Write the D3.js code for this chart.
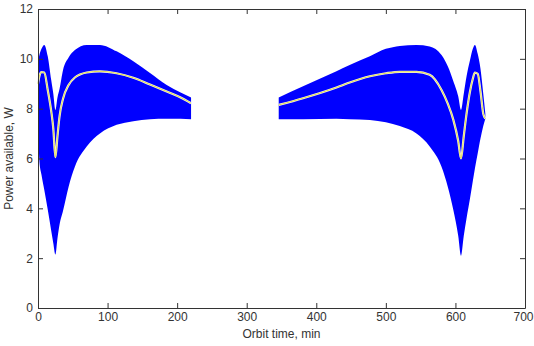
<!DOCTYPE html>
<html>
<head>
<meta charset="utf-8">
<script src="https://cdn.jsdelivr.net/npm/d3@7"></script>
<style>
  body { margin: 0; background: #fff; }
  svg { display: block; font-family: "Liberation Sans", Arial, sans-serif; }
</style>
</head>
<body>
<svg id="chart" width="534" height="346"></svg>
<script>
// orbit pass 1 (min) and envelope / mean power (W)
const time1 = [0, 2, 5, 9, 14, 19, 22, 25, 28, 31, 36, 44, 53, 70, 89, 113, 137, 161, 185, 205, 220];
const upper1 = [9.9, 10.15, 10.4, 10.56, 10.1, 9.15, 8.6, 7.95, 8.45, 8.8, 9.55, 10.05, 10.35, 10.56, 10.56, 10.3, 9.9, 9.43, 8.95, 8.65, 8.45];
const lower1 = [7.6, 5.9, 5.35, 4.75, 3.95, 3.1, 2.6, 2.15, 2.8, 3.35, 3.9, 4.87, 5.67, 6.48, 7.0, 7.35, 7.5, 7.58, 7.6, 7.6, 7.58];
const mean1 = [9.0, 9.3, 9.47, 9.45, 8.75, 7.9, 7.2, 6.05, 6.9, 7.7, 8.4, 8.95, 9.25, 9.45, 9.5, 9.42, 9.24, 8.97, 8.69, 8.45, 8.22];

// orbit pass 2
const time2 = [346, 381, 429, 448, 477, 500, 520, 544, 563, 580, 589, 597, 604, 608, 612, 616, 621, 625, 628, 632, 636, 640, 643];
const upper2 = [8.45, 8.9, 9.5, 9.75, 10.1, 10.4, 10.52, 10.56, 10.5, 10.15, 9.7, 9.1, 8.5, 7.95, 8.6, 9.3, 9.95, 10.4, 10.56, 10.2, 9.6, 8.6, 7.8];
const lower2 = [7.58, 7.58, 7.6, 7.58, 7.55, 7.45, 7.3, 7.0, 6.48, 5.67, 4.87, 3.93, 2.9, 2.1, 2.9, 3.6, 4.4, 5.1, 5.6, 6.2, 6.8, 7.3, 7.6];
const mean2 = [8.15, 8.42, 8.85, 9.05, 9.3, 9.42, 9.48, 9.48, 9.36, 8.75, 8.2, 7.55, 6.7, 6.0, 6.9, 7.8, 8.7, 9.2, 9.45, 9.4, 8.7, 7.8, 7.6];

const xTicks = [0, 100, 200, 300, 400, 500, 600, 700];
const yTicks = [0, 2, 4, 6, 8, 10, 12];

const margin = { top: 9, right: 9, bottom: 38, left: 38 };
const width = 534, height = 346;

const xScale = d3.scaleLinear().domain([0, 700]).range([margin.left, width - margin.right]);
const yScale = d3.scaleLinear().domain([0, 12]).range([height - margin.bottom, margin.top]);

const svg = d3.select("#chart");

const segments = [
  { t: time1, up: upper1, lo: lower1, m: mean1 },
  { t: time2, up: upper2, lo: lower2, m: mean2 }
];

const area = d3.area()
  .x(d => xScale(d.t))
  .y0(d => yScale(d.lo))
  .y1(d => yScale(d.up))
  .curve(d3.curveMonotoneX);

const line = d3.line()
  .x(d => xScale(d.t))
  .y(d => yScale(d.m))
  .curve(d3.curveMonotoneX);

segments.forEach(s => {
  const rows = s.t.map((t, i) => ({ t: t, up: s.up[i], lo: s.lo[i], m: s.m[i] }));
  svg.append("path")
    .datum(rows)
    .attr("d", area)
    .attr("fill", "#0000ff");
  // light halo under the mean line
  svg.append("path")
    .datum(rows)
    .attr("d", line)
    .attr("fill", "none")
    .attr("stroke", "#f2f2e4")
    .attr("stroke-width", 2.2);
  svg.append("path")
    .datum(rows)
    .attr("d", line)
    .attr("fill", "none")
    .attr("stroke", "#e4dc50")
    .attr("stroke-width", 1);
});

// axes, matlab style: ticks inside, box all round
const axisColor = "#333";
const fmt = d3.format("d");

svg.append("g")
  .attr("transform", `translate(0,${height - margin.bottom})`)
  .call(d3.axisBottom(xScale).tickValues(xTicks).tickFormat(fmt).tickSizeInner(-5).tickSizeOuter(0).tickPadding(4));
svg.append("g")
  .attr("transform", `translate(0,${margin.top})`)
  .call(d3.axisTop(xScale).tickValues(xTicks).tickFormat("").tickSizeInner(-5).tickSizeOuter(0));
svg.append("g")
  .attr("transform", `translate(${margin.left},0)`)
  .call(d3.axisLeft(yScale).tickValues(yTicks).tickFormat(fmt).tickSizeInner(-5).tickSizeOuter(0).tickPadding(5));
svg.append("g")
  .attr("transform", `translate(${width - margin.right},0)`)
  .call(d3.axisRight(yScale).tickValues(yTicks).tickFormat("").tickSizeInner(-5).tickSizeOuter(0));

svg.selectAll(".domain, .tick line").attr("stroke", axisColor);
svg.selectAll(".tick text")
  .attr("fill", "#333")
  .style("font-size", "12px")
  .style("font-family", "Liberation Sans, Arial, sans-serif");

// last x label sits at the window edge; pull it in a little
svg.selectAll(".tick text").filter(d => d === 700).attr("dx", "-2");

svg.append("text")
  .attr("x", (xScale(0) + xScale(700)) / 2)
  .attr("y", 338)
  .attr("text-anchor", "middle")
  .attr("fill", "#333")
  .style("font-size", "12px")
  .text("Orbit time, min");

svg.append("text")
  .attr("transform", `translate(13,${(yScale(0) + yScale(12)) / 2}) rotate(-90)`)
  .attr("text-anchor", "middle")
  .attr("fill", "#333")
  .style("font-size", "12px")
  .text("Power available, W");
</script>
</body>
</html>
